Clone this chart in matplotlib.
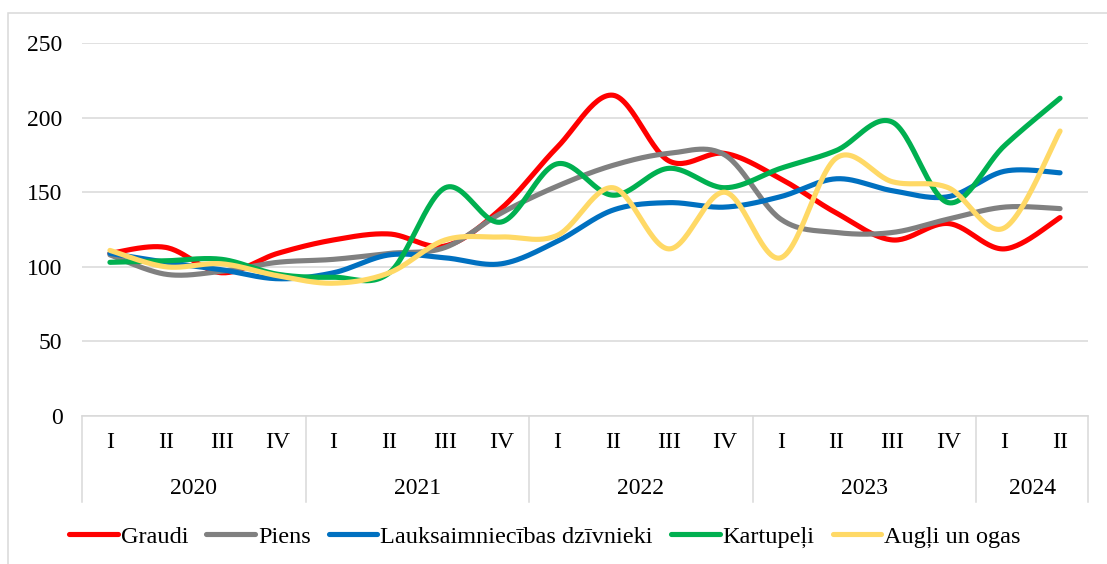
import numpy as np
import matplotlib
matplotlib.use("Agg")
import matplotlib.pyplot as plt
from matplotlib.transforms import blended_transform_factory
from matplotlib.patches import Rectangle

plt.rcParams['font.family'] = ['Liberation Serif', 'DejaVu Serif']

years = ["2020", "2021", "2022", "2023", "2024"]
quarters_per_year = [4, 4, 4, 4, 2]
quarter_labels = ["I", "II", "III", "IV"] * 4 + ["I", "II"]

graudi = [109, 113, 96, 109, 118, 122, 114, 139, 180, 215, 171, 176, 159, 136, 118, 129, 112, 133]
piens = [108, 95, 97, 103, 105, 109, 113, 136, 154, 168, 176, 175, 132, 123, 123, 132, 140, 139]
lauks = [109, 103, 98, 92, 96, 108, 106, 102, 117, 138, 143, 140, 147, 159, 151, 147, 164, 163]
kartupeli = [103, 104, 105, 95, 93, 96, 153, 130, 169, 148, 166, 153, 166, 178, 197, 143, 181, 213]
augli = [111, 100, 102, 94, 89, 96, 118, 120, 121, 153, 112, 150, 106, 173, 157, 153, 126, 191]

series = [
    ("Graudi", graudi, "#FF0000"),
    ("Piens", piens, "#808080"),
    ("Lauksaimniecības dzīvnieki", lauks, "#0070C0"),
    ("Kartupeļi", kartupeli, "#00B050"),
    ("Augļi un ogas", augli, "#FFD966"),
]


def smooth(x, y, n=30):
    # Excel-like smoothed line: cubic Bezier with Catmull-Rom control points
    x = np.asarray(x, float)
    y = np.asarray(y, float)
    px = np.concatenate([[x[0]], x, [x[-1]]])
    py = np.concatenate([[y[0]], y, [y[-1]]])
    t = np.linspace(0, 1, n)
    xs, ys = [], []
    for i in range(1, len(px) - 2):
        p0 = np.array([px[i], py[i]])
        p3 = np.array([px[i + 1], py[i + 1]])
        c1 = p0 + (p3 - np.array([px[i - 1], py[i - 1]])) / 6
        c2 = p3 - (np.array([px[i + 2], py[i + 2]]) - p0) / 6
        b = ((1 - t) ** 3)[:, None] * p0 + (3 * (1 - t) ** 2 * t)[:, None] * c1 \
            + (3 * (1 - t) * t ** 2)[:, None] * c2 + (t ** 3)[:, None] * p3
        xs.append(b[:, 0])
        ys.append(b[:, 1])
    return np.concatenate(xs), np.concatenate(ys)


fig = plt.figure(figsize=(11.07, 5.64), dpi=100)
ax = fig.add_axes([82 / 1107, 148 / 564, 1006 / 1107, 373 / 564])

x = np.arange(len(quarter_labels))
for name, vals, color in series:
    sx, sy = smooth(x, vals)
    ax.plot(sx, sy, color=color, lw=3.7, solid_capstyle='round', label=name)

ax.set_xlim(-0.5, len(x) - 0.5)
ax.set_ylim(0, 250)
ax.set_yticks(range(0, 251, 50))
ax.yaxis.grid(True, color="#D9D9D9", lw=1.1)
ax.set_axisbelow(True)
for s in ["top", "right", "left"]:
    ax.spines[s].set_visible(False)
ax.spines["bottom"].set_color("#D9D9D9")
ax.spines["bottom"].set_linewidth(1.1)
ax.tick_params(axis="y", length=0, pad=14, labelsize=17)
ax.set_xticks([])

# two-level category axis
tr = blended_transform_factory(ax.transData, fig.transFigure)
for i, q in enumerate(quarter_labels):
    ax.text(i, (564 - 443) / 564, q, transform=tr, ha="center", va="center", fontsize=17)
start = 0
bounds = [-0.5]
for yr, n in zip(years, quarters_per_year):
    ax.text(start + (n - 1) / 2, (564 - 488) / 564, yr, transform=tr,
            ha="center", va="center", fontsize=17)
    start += n
    bounds.append(start - 0.5)
for b in bounds:
    ax.plot([b, b], [148 / 564, 62 / 564], transform=tr, color="#D9D9D9",
            lw=1.1, clip_on=False)

ax.legend(loc="center", bbox_to_anchor=(545 / 1107, 27 / 564), bbox_transform=fig.transFigure,
          ncol=5, frameon=False, fontsize=17.5, handlelength=2.0, handletextpad=0.12,
          columnspacing=0.75)

fig.patches.append(Rectangle((8 / 1107, -0.1), 1.2, (564 - 13) / 564 + 0.1,
                             transform=fig.transFigure, fill=False,
                             edgecolor="#D9D9D9", lw=1.1))

fig.savefig("out.png", dpi=100)
